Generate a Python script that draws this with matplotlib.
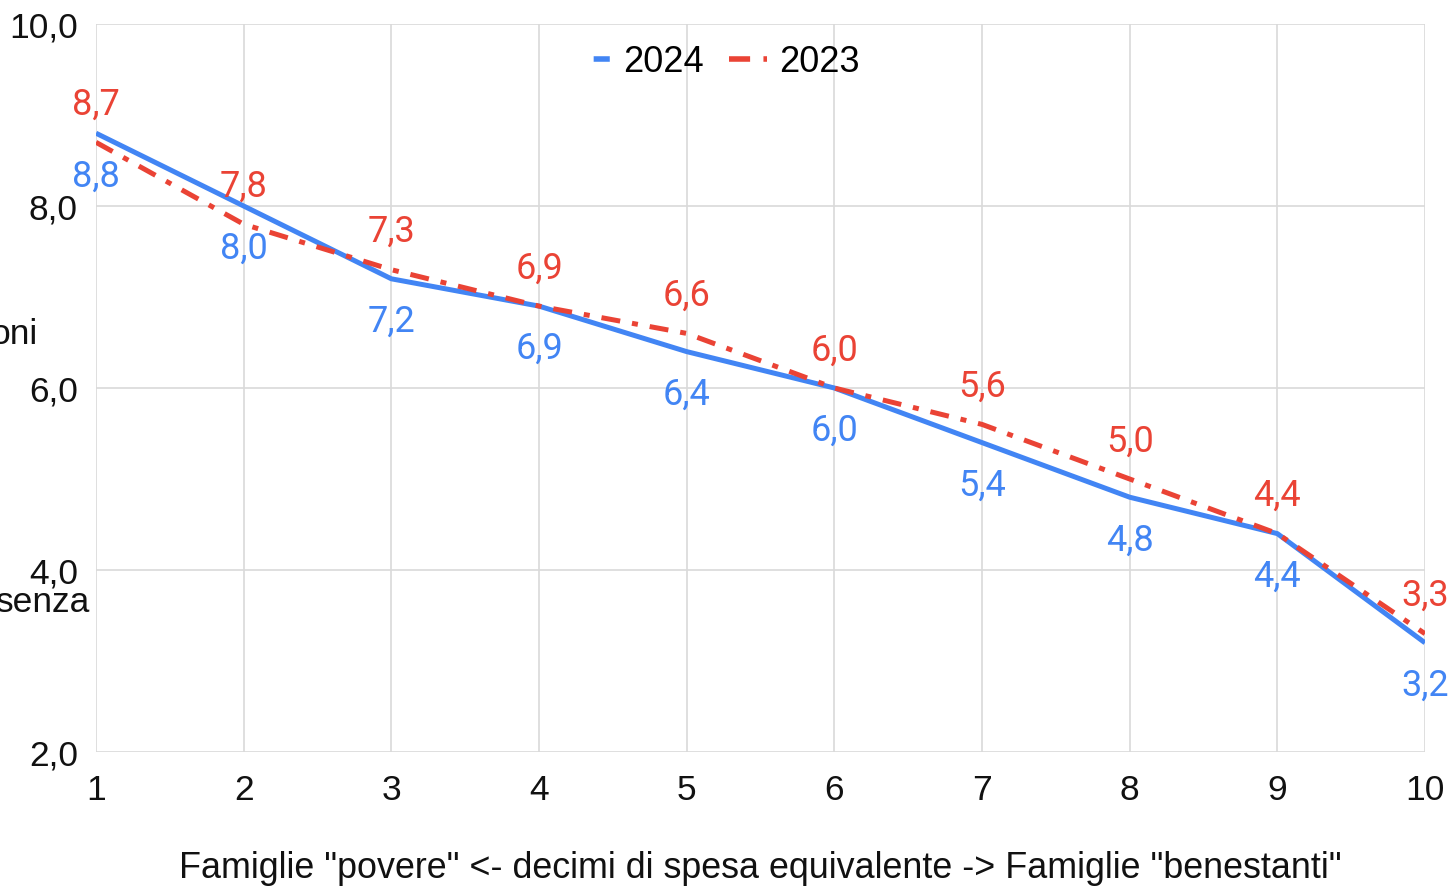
import matplotlib.pyplot as plt

# dati --------------------------
decili = [1, 2, 3, 4, 5, 6, 7, 8, 9, 10]
val_2024 = [8.8, 8.0, 7.2, 6.9, 6.4, 6.0, 5.4, 4.8, 4.4, 3.2]
val_2023 = [8.7, 7.8, 7.3, 6.9, 6.6, 6.0, 5.6, 5.0, 4.4, 3.3]
yticks = [2, 4, 6, 8, 10]
#--------------------------------

BLUE = '#4285F4'
RED = '#EA4335'
GRID = '#d9d9d9'

plt.rcParams['font.family'] = ['Liberation Sans', 'DejaVu Sans']

fig = plt.figure(figsize=(14.53, 8.89), dpi=100)
ax = fig.add_axes([96/1453, 1 - 752/889, (1425-96)/1453, (752-24)/889])

ax.plot(decili, val_2024, color=BLUE, lw=3.6, label='2024', solid_capstyle='butt', zorder=3)
ax.plot(decili, val_2023, color=RED, lw=3.6, label='2023', dashes=(3.8, 2.4, 1.2, 2.4), zorder=3)

# etichette dei valori
for x, v in zip(decili, val_2024):
    ax.annotate(f'{v:.1f}'.replace('.', ','), (x, v), xytext=(0, -31), textcoords='offset points',
                ha='center', va='center', color=BLUE, fontsize=26, family='Roboto',
                annotation_clip=False)
for x, v in zip(decili, val_2023):
    ax.annotate(f'{v:.1f}'.replace('.', ','), (x, v), xytext=(0, 27), textcoords='offset points',
                ha='center', va='center', color=RED, fontsize=26, family='Roboto',
                annotation_clip=False)

ax.set_xlim(1, 10)
ax.set_ylim(2, 10)
ax.set_xticks(decili)
ax.set_yticks(yticks)
ax.set_yticklabels([f'{t:.1f}'.replace('.', ',') for t in yticks])
ax.tick_params(length=0, labelsize=25.5, colors='#111111')
ax.tick_params(axis='x', pad=16)
ax.tick_params(axis='y', pad=13)
ax.grid(True, color=GRID, lw=1.2)
ax.set_axisbelow(True)
for s in ax.spines.values():
    s.set_visible(False)

ax.set_xlabel('Famiglie "povere" <- decimi di spesa equivalente -> Famiglie "benestanti"',
              fontsize=25.8, color='#111111', va='center')
ax.xaxis.set_label_coords(0.5, (752 - 868) / 728)

# titolo asse y tagliato a sinistra
fig.text(-10/1453, 1 - 335/889, 'oni', fontsize=25.5, ha='left', va='center', color='#111111')
fig.text(-4/1453, 1 - 603/889, 'senza', fontsize=25.5, ha='left', va='center', color='#111111')

leg = ax.legend(loc='center', bbox_to_anchor=(0.4665, 1 - (62 - 24) / 728), ncol=2, frameon=False,
                fontsize=26, handlelength=1.05, handletextpad=0.36, columnspacing=0.7)
h_blue, h_red = leg.get_lines()
h_blue.set_linewidth(4)
h_blue.set_linestyle((0, (0, 3.9, 2.9, 50)))
h_red.set_linewidth(4)

fig.savefig('out.png', dpi=100, facecolor='white')
